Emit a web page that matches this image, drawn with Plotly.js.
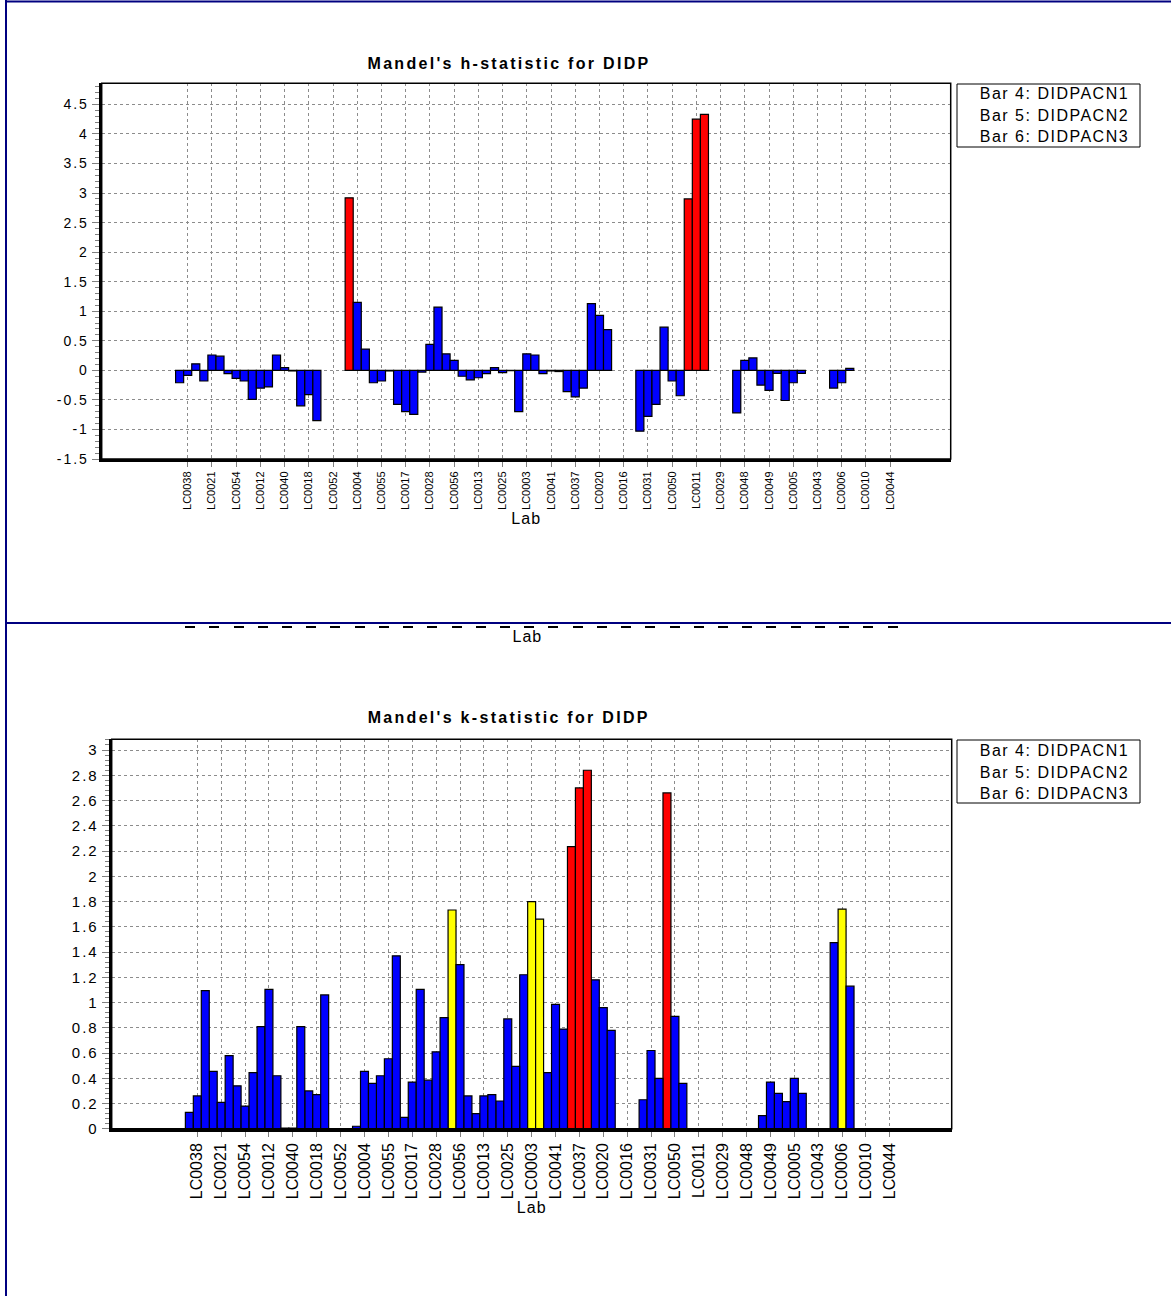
<!DOCTYPE html>
<html>
<head>
<meta charset="utf-8">
<script src="https://cdn.plot.ly/plotly-3.0.1.min.js"></script>
<style>
  html, body { margin: 0; padding: 0; background: #ffffff; }
  #chart { width: 1171px; height: 1296px; }
  .gtitle { letter-spacing: 2.3px; }
  g.annotation[data-index="0"] text { letter-spacing: 2.3px; }
  g.annotation[data-index="1"] text, g.annotation[data-index="2"] text, g.annotation[data-index="3"] text,
  g.annotation[data-index="4"] text, g.annotation[data-index="5"] text, g.annotation[data-index="6"] text { letter-spacing: 1.5px; }
  g.annotation[data-index="7"] text { letter-spacing: 1px; }
  g.ytick text, g.y2tick text { letter-spacing: 2px; }
  .xtitle, .x2title { letter-spacing: 1px; }
</style>
</head>
<body>
<div id="chart"></div>
<script>
// ---------- data ----------
const labs = ["LC0038","LC0021","LC0054","LC0012","LC0040","LC0018","LC0052","LC0004","LC0055","LC0017",
              "LC0028","LC0056","LC0013","LC0025","LC0003","LC0041","LC0037","LC0020","LC0016","LC0031",
              "LC0050","LC0011","LC0029","LC0048","LC0049","LC0005","LC0043","LC0006","LC0010","LC0044"];
const seriesNames = ["Bar 4: DIDPACN1", "Bar 5: DIDPACN2", "Bar 6: DIDPACN3"];

// Mandel's h-statistic
const hBar4 = [-0.21,-0.18,-0.055,-0.49,0.26,-0.60,null,2.92,-0.21,-0.575,
               -0.03,0.28,-0.16,0.045,-0.70,-0.055,-0.36,1.13,null,-1.03,
               0.73,2.90,null,-0.72,-0.25,-0.51,null,-0.30,null,null];
const hBar5 = [-0.085,0.26,-0.135,-0.30,0.045,-0.41,null,1.15,-0.18,-0.70,
               0.44,0.17,-0.125,-0.04,0.28,-0.01,-0.45,0.93,null,-0.78,
               -0.18,4.25,null,0.17,-0.34,-0.21,null,-0.21,null,null];
const hBar6 = [0.11,0.24,-0.18,-0.28,-0.01,-0.85,null,0.36,-0.01,-0.745,
               1.07,-0.10,-0.055,-0.005,0.26,-0.02,-0.30,0.69,null,-0.575,
               -0.43,4.33,null,0.21,-0.05,-0.05,null,0.035,null,null];

// Mandel's k-statistic
const kBar4 = [0.13,0.455,0.34,0.81,0.005,0.30,null,0.02,0.42,0.09,
               0.385,1.733,0.12,0.22,1.22,0.445,2.235,1.18,null,0.23,
               2.66,null,null,null,0.105,0.215,null,1.475,null,null];
const kBar5 = [0.26,0.21,0.18,1.105,0.005,0.27,null,0.455,0.555,0.37,
               0.61,1.30,0.26,0.87,1.80,0.985,2.70,0.96,null,0.62,
               0.89,null,null,null,0.37,0.40,null,1.74,null,null];
const kBar6 = [1.095,0.58,0.445,0.42,0.81,1.06,null,0.36,1.37,1.105,
               0.88,0.26,0.27,0.495,1.66,0.79,2.84,0.78,null,0.40,
               0.36,null,null,null,0.28,0.28,null,1.13,null,null];

// critical values used for colouring
const hCrit1 = 2.5;
const kCrit5 = 1.55;
const kCrit1 = 2.0;

// axis ticks
const hTicks = [-1.5,-1,-0.5,0,0.5,1,1.5,2,2.5,3,3.5,4,4.5];
const kTicks = [0,0.2,0.4,0.6,0.8,1,1.2,1.4,1.6,1.8,2,2.2,2.4,2.6,2.8,3];

const hTitle = "Mandel's h-statistic for DIDP";
const kTitle = "Mandel's k-statistic for DIDP";
const xTitle = "Lab";

// ---------- styling ----------
const W = 1171, H = 1296;
const px = v => v / W;
const py = v => 1 - v / H;
const FONT = "'Liberation Sans', Arial, sans-serif";
const BLUE = "#0000FF", RED = "#FF0000", YELLOW = "#FFFF00";
const colH = v => (v !== null && Math.abs(v) > hCrit1) ? RED : BLUE;
const colK = v => (v === null) ? BLUE : (v > kCrit1 ? RED : (v > kCrit5 ? YELLOW : BLUE));

function barTrace(vals, name, colFn, xa, ya) {
  return {
    type: "bar", x: labs, y: vals, name: name, xaxis: xa, yaxis: ya,
    marker: { color: vals.map(colFn), line: { color: "#000000", width: 1.2 } },
    showlegend: false, hoverinfo: "x+y"
  };
}

const data = [
  barTrace(hBar4, seriesNames[0], colH, "x", "y"),
  barTrace(hBar5, seriesNames[1], colH, "x", "y"),
  barTrace(hBar6, seriesNames[2], colH, "x", "y"),
  barTrace(kBar4, seriesNames[0], colK, "x2", "y2"),
  barTrace(kBar5, seriesNames[1], colK, "x2", "y2"),
  barTrace(kBar6, seriesNames[2], colK, "x2", "y2"),
  { type: "scatter", mode: "markers", x: labs, y: labs.map(() => null),
    xaxis: "x3", yaxis: "y3", showlegend: false, hoverinfo: "skip" }
];

const gridStyle = { showgrid: true, gridcolor: "#8c8c8c", griddash: "dot", gridwidth: 1 };

function xAxis(domain, range, anchor, fsize) {
  return Object.assign({
    domain: domain, anchor: anchor, type: "category",
    categoryorder: "array", categoryarray: labs, range: range,
    ticks: "outside", ticklen: 5, tickwidth: 1, tickcolor: "#808080",
    tickangle: -90, tickfont: { family: FONT, size: fsize, color: "#000" },
    showline: true, linecolor: "#000", linewidth: 3, zeroline: false,
    title: { text: xTitle, font: { family: FONT, size: 16, color: "#000" }, standoff: 1 },
    fixedrange: true
  }, gridStyle);
}

function yAxis(domain, range, anchor, tv, minorD, fsize) {
  return Object.assign({
    domain: domain, anchor: anchor, range: range,
    tickmode: "array", tickvals: tv, ticktext: tv.map(v => String(v)),
    ticks: "outside", ticklen: 7, tickwidth: 1, tickcolor: "#808080",
    minor: { tickmode: "linear", tick0: 0, dtick: minorD, ticks: "outside", ticklen: 4, tickcolor: "#808080", showgrid: false },
    tickfont: { family: FONT, size: fsize, color: "#000" },
    showline: true, linecolor: "#000", linewidth: 3, zeroline: false,
    fixedrange: true
  }, gridStyle);
}

const topX = [px(101.7), px(950.7)];
const topY = [py(459), py(83.3)];
const botX = [px(111.7), px(951.7)];
const botY = [py(1128.8), py(739.3)];

const annotations = [
  { text: kTitle, xref: "paper", yref: "paper", x: px(509), y: py(717), xanchor: "center", yanchor: "middle",
    showarrow: false, font: { family: FONT, size: 16, color: "#000", weight: "bold" } }
];
const legendRows = [[94, 115, 136], [750, 772, 794]];
legendRows.forEach(rows => {
  rows.forEach((yy, i) => {
    annotations.push({ text: seriesNames[i], xref: "paper", yref: "paper", x: px(1054), y: py(yy),
      xanchor: "center", yanchor: "middle", showarrow: false,
      font: { family: FONT, size: 16, color: "#000" } });
  });
});
annotations.push({ text: xTitle, xref: "paper", yref: "paper", x: px(527), y: py(636), xanchor: "center", yanchor: "middle",
  showarrow: false, font: { family: FONT, size: 16, color: "#000" } });

const NAVY = "#000080";
const shapes = [
  { type: "line", xref: "paper", yref: "paper", x0: px(6), x1: px(6), y0: 0, y1: 1, line: { color: NAVY, width: 2 } },
  { type: "line", xref: "paper", yref: "paper", x0: px(6), x1: 1, y0: py(1.5), y1: py(1.5), line: { color: NAVY, width: 2 } },
  { type: "line", xref: "paper", yref: "paper", x0: px(6), x1: 1, y0: py(623), y1: py(623), line: { color: NAVY, width: 2 } },
  { type: "rect", xref: "x domain", yref: "y domain", x0: 0, x1: 1, y0: 0, y1: 1, line: { color: "#000", width: 1.5 }, layer: "above" },
  { type: "rect", xref: "x2 domain", yref: "y2 domain", x0: 0, x1: 1, y0: 0, y1: 1, line: { color: "#000", width: 1.5 }, layer: "above" },
  { type: "rect", xref: "paper", yref: "paper", x0: px(957), x1: px(1140), y0: py(147), y1: py(84), line: { color: "#000", width: 1 }, fillcolor: "#fff" },
  { type: "rect", xref: "paper", yref: "paper", x0: px(957), x1: px(1140), y0: py(803), y1: py(740), line: { color: "#000", width: 1 }, fillcolor: "#fff" }
];

const layout = {
  width: W, height: H,
  margin: { l: 0, r: 0, t: 0, b: 0, pad: 0 },
  paper_bgcolor: "#ffffff", plot_bgcolor: "#ffffff",
  font: { family: FONT, color: "#000" },
  barmode: "group", bargap: 0, bargroupgap: 0,
  showlegend: false,
  title: { text: hTitle, xref: "paper", yref: "paper", x: px(509), y: py(63.5), xanchor: "center", yanchor: "middle",
           font: { family: FONT, size: 16, color: "#000", weight: "bold" } },
  xaxis: xAxis(topX, [-3.55, 31.5], "y", 11),
  yaxis: yAxis(topY, [-1.5, 4.857], "x", hTicks, 0.1, 14),
  xaxis2: xAxis(botX, [-3.585, 31.59], "y2", 16),
  yaxis2: yAxis(botY, [0, 3.085], "x2", kTicks, 0.04, 15),
  xaxis3: { domain: topX, anchor: "y3", type: "category", categoryorder: "array", categoryarray: labs,
            range: [-3.65, 31.4], showgrid: false, showline: false, zeroline: false,
            ticks: "outside", ticklen: 2, tickwidth: 10, tickcolor: "#000", showticklabels: false, fixedrange: true },
  yaxis3: { domain: [py(624.5), py(623.5)], anchor: "x3", visible: false, fixedrange: true },
  annotations: annotations,
  shapes: shapes
};

Plotly.newPlot("chart", data, layout, { displayModeBar: false, staticPlot: true });
</script>
</body>
</html>
